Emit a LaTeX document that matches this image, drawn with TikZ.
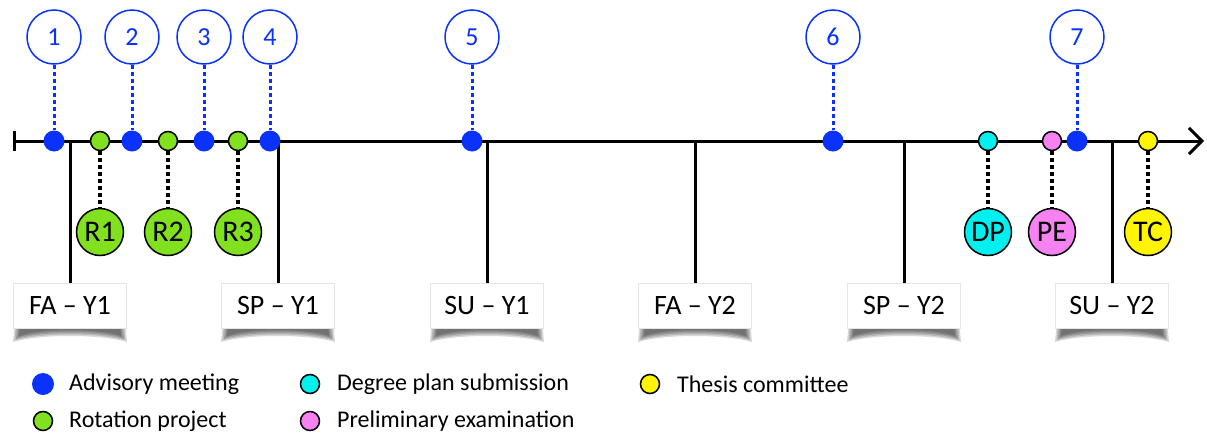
\documentclass[tikz,border=0pt]{standalone}
\usepackage{fontspec}
\setmainfont{Carlito}
\usetikzlibrary{arrows.meta}
\definecolor{meetblue}{RGB}{10,50,250}
\definecolor{rotgreen}{RGB}{130,225,30}
\definecolor{degcyan}{RGB}{0,240,240}
\definecolor{prepink}{RGB}{245,130,240}
\definecolor{thyellow}{RGB}{255,245,0}
\tikzset{
  meetdot/.style={circle,fill=meetblue,minimum size=21pt,inner sep=0pt},
  eventdot/.style={circle,draw=black,line width=1.5pt,minimum size=19pt,inner sep=0pt},
  meetnum/.style={circle,draw=meetblue,line width=1.5pt,fill=white,minimum size=54pt,inner sep=0pt,text=meetblue,font=\fontsize{26}{26}\selectfont},
  eventbig/.style={circle,draw=black,line width=1.5pt,minimum size=47pt,inner sep=0pt,font=\fontsize{30}{30}\selectfont},
  termbox/.style={fill=white,draw=black!10,minimum width=113pt,minimum height=45pt,inner sep=0pt,font=\fontsize{28}{28}\selectfont},
  bluelink/.style={meetblue,line width=3pt,dash pattern=on 4pt off 3pt},
  blacklink/.style={black,line width=3.5pt,dash pattern=on 4pt off 3pt},
  legtext/.style={anchor=west,inner sep=0pt,font=\fontsize{24}{24}\selectfont},
}
\def\shadowbox(#1)[#2]#3{%
  \foreach \d in {0,1.5,3,4.5,6}{
    \fill[black,opacity=0.15] (#1-55+\d,318) -- (#1+55-\d,318) -- (#1+57-\d,342-\d)
      .. controls (#1+30,334-\d) and (#1-30,334-\d) .. (#1-57+\d,342-\d) -- cycle;
  }
  \node[termbox] (#2) at (#1,305.5) {#3};
}

\begin{document}
\begin{tikzpicture}[x=1pt,y=-1pt]
  %%%%% START %%%%%
  \useasboundingbox (0,0) rectangle (1207,442);

  \coordinate (tstart) at (13,141);
  \coordinate (tend) at (1204,141);
  \draw[line width=3pt,{Bar[width=20pt]}-{Straight Barb[length=13pt,width=26pt]}] (tstart) -- (tend);

  \shadowbox(70)[fa1]{FA -- Y1}
  \shadowbox(278)[sp1]{SP -- Y1}
  \shadowbox(487)[su1]{SU -- Y1}
  \shadowbox(695)[fa2]{FA -- Y2}
  \shadowbox(904)[sp2]{SP -- Y2}
  \shadowbox(1112)[su2]{SU -- Y2}
  \foreach \t in {fa1,sp1,su1,fa2,sp2,su2}
    \draw[line width=3pt] (\t.north) -- (\t.north |- tstart);

  \foreach \n/\x in {1/54,2/132,3/204,4/270,5/472,6/833,7/1077}{
    \node[meetnum] (n\n) at (\x,37) {\n};
    \node[meetdot] (m\n) at (\x,141) {};
    \draw[bluelink] (n\n) -- (m\n);
  }

  \foreach \e/\x/\c/\t in {r1/100/rotgreen/R1,r2/168/rotgreen/R2,r3/238/rotgreen/R3,
                           dp/988/degcyan/DP,pe/1052/prepink/PE,tc/1148/thyellow/TC}{
    \node[eventdot,fill=\c] (\e) at (\x,141) {};
    \node[eventbig,fill=\c] (\e big) at (\x,232) {\t};
    \draw[blacklink] (\e) -- (\e big);
  }

  % legend
  \node[meetdot,minimum size=22pt] (lmeet) at (43,384) {};
  \node[legtext] (lmeett) at (69,384) {Advisory meeting};
  \node[eventdot,fill=rotgreen] (lrot) at (43,421) {};
  \node[legtext] (lrott) at (69,421) {Rotation project};
  \node[eventdot,fill=degcyan] (ldeg) at (310,384) {};
  \node[legtext] (ldegt) at (337,384) {Degree plan submission};
  \node[eventdot,fill=prepink] (lpre) at (310,421) {};
  \node[legtext] (lpret) at (337,421) {Preliminary examination};
  \node[eventdot,fill=thyellow] (lthe) at (650,384) {};
  \node[legtext] (lthet) at (677,384) {Thesis committee};
  %%%%% END %%%%%
\end{tikzpicture}
\end{document}
